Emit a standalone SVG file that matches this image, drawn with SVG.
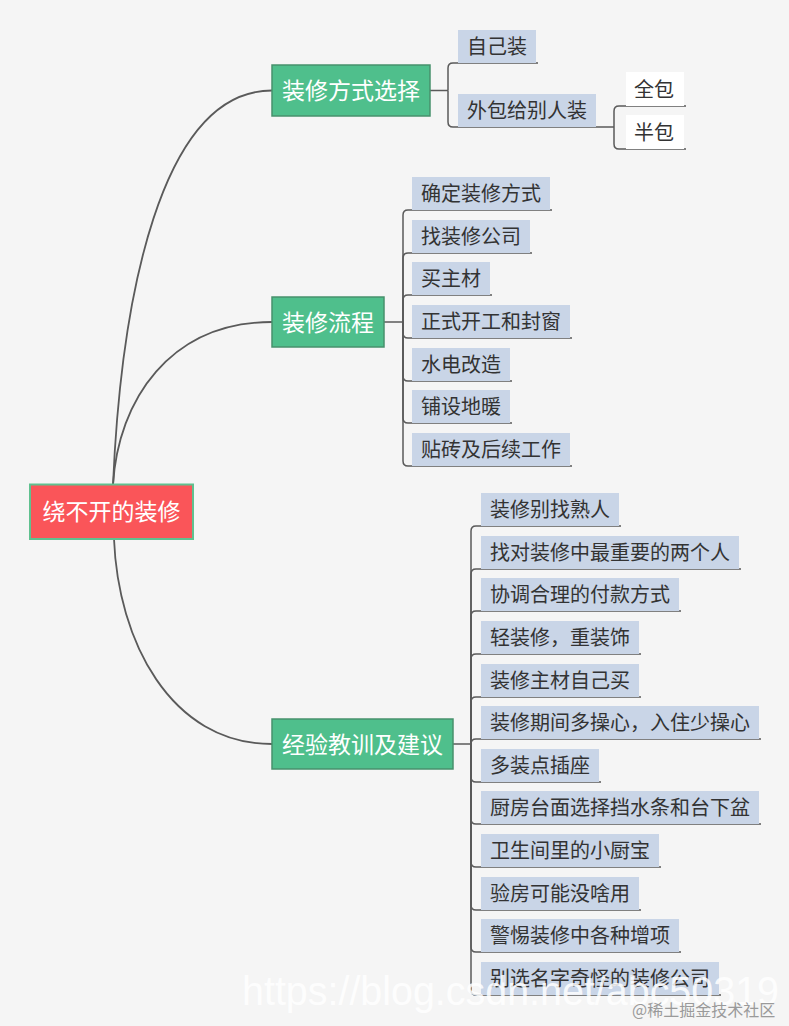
<svg xmlns="http://www.w3.org/2000/svg" width="789" height="1026" viewBox="0 0 789 1026">
<style>
.bg{fill:#f5f5f5}
.root{fill:#fa5559;stroke:#5fc18f;stroke-width:2}
.l1{fill:#4fbf8c;stroke:#47916c;stroke-width:1.5}
.l2{fill:#c9d5e7}
.l3{fill:#ffffff}
.t0{font-family:"Noto Sans CJK SC","Microsoft YaHei",sans-serif;font-size:23px;fill:#ffffff;text-anchor:middle}
.t2{font-family:"Noto Sans CJK SC","Microsoft YaHei",sans-serif;font-size:20px;fill:#333333}
.curve{fill:none;stroke:#5a5a5a;stroke-width:1.8}
.br{fill:none;stroke:#5a5a5a;stroke-width:1.5}
.wm{font-family:"Liberation Sans",Arial,sans-serif;font-size:41px;fill:#ffffff;fill-opacity:0.85}
.wm2{font-family:"Noto Sans CJK SC",sans-serif;font-size:16px;fill:#9a9a9a}
</style>
<rect class="bg" x="0" y="0" width="789" height="1026"/>

<g id="connectors">
  <path class="curve" d="M113 485 C121 300 160 90.5 272 90.5"/>
  <path class="curve" d="M113 485 C118 400 170 322 272 322"/>
  <path class="curve" d="M114 539 C118 640 170 744 272 744"/>

  <path class="br" d="M430 90.5 L448 90.5"/>
  <path class="br" d="M448 90.5 L448 68 Q448 63 453 63 L538 63"/>
  <path class="br" d="M448 90.5 L448 122 Q448 127 453 127 L614 127"/>
  <path class="br" d="M614 127 L614 111 Q614 106 619 106 L686 106"/>
  <path class="br" d="M614 127 L614 144 Q614 149 619 149 L686 149"/>

  <path class="br" d="M384 322 L403 322"/>
  <path class="br" d="M403 322 L403 215 Q403 210 408 210 L552 210"/>
  <path class="br" d="M403 322 L403 258 Q403 253 408 253 L532 253"/>
  <path class="br" d="M403 322 L403 300 Q403 295 408 295 L492 295"/>
  <path class="br" d="M403 322 L403 333 Q403 338 408 338 L572 338"/>
  <path class="br" d="M403 322 L403 376 Q403 381 408 381 L512 381"/>
  <path class="br" d="M403 322 L403 418 Q403 423 408 423 L512 423"/>
  <path class="br" d="M403 322 L403 461 Q403 466 408 466 L572 466"/>

  <path class="br" d="M453 744 L471 744"/>
  <path class="br" d="M471 744 L471 531 Q471 526 476 526 L621 526"/>
  <path class="br" d="M471 744 L471 574 Q471 569 476 569 L741 569"/>
  <path class="br" d="M471 744 L471 616 Q471 611 476 611 L681 611"/>
  <path class="br" d="M471 744 L471 659 Q471 654 476 654 L641 654"/>
  <path class="br" d="M471 744 L471 702 Q471 697 476 697 L641 697"/>
  <path class="br" d="M471 744 L471 744 Q471 739 476 739 L761 739"/>
  <path class="br" d="M471 744 L471 777 Q471 782 476 782 L601 782"/>
  <path class="br" d="M471 744 L471 819 Q471 824 476 824 L761 824"/>
  <path class="br" d="M471 744 L471 862 Q471 867 476 867 L661 867"/>
  <path class="br" d="M471 744 L471 905 Q471 910 476 910 L641 910"/>
  <path class="br" d="M471 744 L471 947 Q471 952 476 952 L681 952"/>
  <path class="br" d="M471 744 L471 990 Q471 995 476 995 L721 995"/>
</g>

<g id="root">
  <rect class="root" x="30" y="484.5" width="163" height="54.5"/>
  <text class="t0" x="111.5" y="520">绕不开的装修</text>
</g>

<g id="n-fangshi">
  <rect class="l1" x="272" y="65" width="158" height="51"/>
  <text class="t0" x="351" y="99">装修方式选择</text>
</g>
<g id="n-liucheng">
  <rect class="l1" x="272" y="297" width="112" height="50"/>
  <text class="t0" x="328" y="330.5">装修流程</text>
</g>
<g id="n-jingyan">
  <rect class="l1" x="272" y="719" width="181" height="50"/>
  <text class="t0" x="362.5" y="752.5">经验教训及建议</text>
</g>

<g id="n-zijizhuang"><rect class="l2" x="458" y="30" width="78" height="33"/><text class="t2" x="467" y="54">自己装</text></g>
<g id="n-waibao"><rect class="l2" x="458" y="94" width="138" height="33"/><text class="t2" x="467" y="118">外包给别人装</text></g>
<g id="n-quanbao"><rect class="l3" x="626" y="72" width="58" height="34"/><text class="t2" x="634" y="97">全包</text></g>
<g id="n-banbao"><rect class="l3" x="626" y="115" width="58" height="34"/><text class="t2" x="634" y="140">半包</text></g>

<g id="n-p1"><rect class="l2" x="412" y="177" width="138" height="33"/><text class="t2" x="421" y="201">确定装修方式</text></g>
<g id="n-p2"><rect class="l2" x="412" y="220" width="118" height="33"/><text class="t2" x="421" y="244">找装修公司</text></g>
<g id="n-p3"><rect class="l2" x="412" y="262" width="78" height="33"/><text class="t2" x="421" y="286">买主材</text></g>
<g id="n-p4"><rect class="l2" x="412" y="305" width="158" height="33"/><text class="t2" x="421" y="329">正式开工和封窗</text></g>
<g id="n-p5"><rect class="l2" x="412" y="348" width="98" height="33"/><text class="t2" x="421" y="372">水电改造</text></g>
<g id="n-p6"><rect class="l2" x="412" y="390" width="98" height="33"/><text class="t2" x="421" y="414">铺设地暖</text></g>
<g id="n-p7"><rect class="l2" x="412" y="433" width="158" height="33"/><text class="t2" x="421" y="457">贴砖及后续工作</text></g>

<g id="n-e1"><rect class="l2" x="481" y="493" width="138" height="33"/><text class="t2" x="490" y="517">装修别找熟人</text></g>
<g id="n-e2"><rect class="l2" x="481" y="536" width="258" height="33"/><text class="t2" x="490" y="560">找对装修中最重要的两个人</text></g>
<g id="n-e3"><rect class="l2" x="481" y="578" width="198" height="33"/><text class="t2" x="490" y="602">协调合理的付款方式</text></g>
<g id="n-e4"><rect class="l2" x="481" y="621" width="158" height="33"/><text class="t2" x="490" y="645">轻装修，重装饰</text></g>
<g id="n-e5"><rect class="l2" x="481" y="664" width="158" height="33"/><text class="t2" x="490" y="688">装修主材自己买</text></g>
<g id="n-e6"><rect class="l2" x="481" y="706" width="278" height="33"/><text class="t2" x="490" y="730">装修期间多操心，入住少操心</text></g>
<g id="n-e7"><rect class="l2" x="481" y="749" width="118" height="33"/><text class="t2" x="490" y="773">多装点插座</text></g>
<g id="n-e8"><rect class="l2" x="481" y="791" width="278" height="33"/><text class="t2" x="490" y="815">厨房台面选择挡水条和台下盆</text></g>
<g id="n-e9"><rect class="l2" x="481" y="834" width="178" height="33"/><text class="t2" x="490" y="858">卫生间里的小厨宝</text></g>
<g id="n-e10"><rect class="l2" x="481" y="877" width="158" height="33"/><text class="t2" x="490" y="901">验房可能没啥用</text></g>
<g id="n-e11"><rect class="l2" x="481" y="919" width="198" height="33"/><text class="t2" x="490" y="943">警惕装修中各种增项</text></g>
<g id="n-e12"><rect class="l2" x="481" y="962" width="238" height="33"/><text class="t2" x="490" y="986">别选名字奇怪的装修公司</text></g>

<text class="wm" x="242" y="1005" textLength="537" lengthAdjust="spacingAndGlyphs">https://blog.csdn.net/abc50319</text>
<text class="wm2" x="632" y="1016">@稀土掘金技术社区</text>
</svg>
